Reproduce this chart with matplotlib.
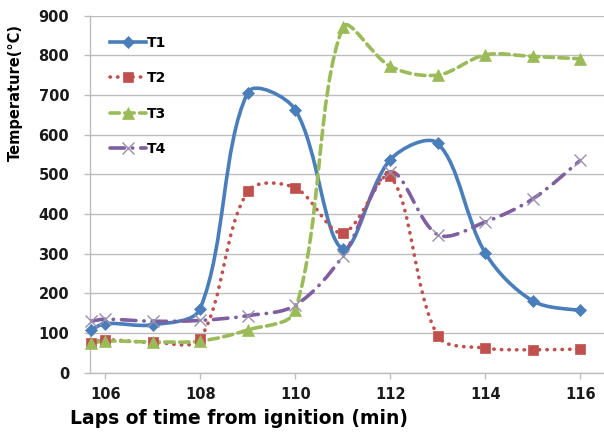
import matplotlib
matplotlib.use("Agg")
import matplotlib.pyplot as plt
import numpy as np
from matplotlib.path import Path
from matplotlib.patches import PathPatch
from matplotlib.lines import Line2D

plt.rcParams["font.family"] = ["DejaVu Sans"]

# minutes since ignition (first reading sits on the axis)
minutes = [105.7, 106, 107, 108, 109, 110, 111, 112, 113, 114, 115, 116]
t1 = [108, 124, 121, 162, 706, 663, 312, 537, 578, 302, 181, 157]
t2 = [75, 83, 77, 86, 457, 466, 352, 495, 93, 62, 58, 60]
t3 = [75, 80, 78, 80, 108, 157, 870, 772, 750, 801, 797, 791]
t4 = [130, 135, 130, 132, 144, 170, 294, 506, 348, 380, 438, 535]

x_ticks = [106, 108, 110, 112, 114, 116]
y_ticks = list(range(0, 1000, 100))

SERIES = [
    ("T1", t1, "#4A7EBB", "-", "D", 6.5),
    ("T2", t2, "#C0504D", (0, (0.1, 2.0)), "s", 7),
    ("T3", t3, "#9BBB59", (0, (2.6, 1.5)), "^", 8),
    ("T4", t4, "#7F5FA0", (0, (4, 2.2, 0.1, 2.2)), "x", 9),
]


def smooth_path(ax, xs, ys):
    """Excel-style smoothed line, bezier built in screen space then mapped back."""
    pts = ax.transData.transform(np.column_stack([xs, ys]))
    n = len(pts)
    dist = [np.hypot(*(pts[i + 1] - pts[i])) for i in range(n - 1)]
    verts = [pts[0]]
    for i in range(n - 1):
        p0 = pts[max(i - 1, 0)]
        p1 = pts[i]
        p2 = pts[i + 1]
        p3 = pts[min(i + 2, n - 1)]
        d01 = dist[i - 1] if i > 0 else dist[i]
        d12 = dist[i]
        d23 = dist[i + 1] if i + 2 < n else dist[i]
        c1 = p1 + (p2 - p0) * d12 / (3 * (d01 + d12))
        c2 = p2 - (p3 - p1) * d12 / (3 * (d12 + d23))
        verts += [c1, c2, p2]
    verts = ax.transData.inverted().transform(np.array(verts))
    codes = [Path.MOVETO] + [Path.CURVE4] * (len(verts) - 1)
    return Path(verts, codes)


fig = plt.figure(figsize=(6.04, 4.32), dpi=100)
ax = fig.add_axes([0.149, 0.137, 0.851, 0.827])
ax.set_xlim(105.68, 116.5)
ax.set_ylim(0, 900)

handles = []
for name, vals, color, ls, mk, ms in SERIES:
    patch = PathPatch(smooth_path(ax, minutes, vals), facecolor="none",
                      edgecolor=color, linewidth=2.6, linestyle=ls,
                      capstyle="round", zorder=3)
    ax.add_patch(patch)
    mcolor = "#9990B0" if mk == "x" else color
    mew = 1.0 if mk == "x" else 0.5
    ax.plot(minutes, vals, linestyle="none", marker=mk, markersize=ms,
            color=mcolor, markeredgecolor=mcolor, markeredgewidth=mew,
            clip_on=False, zorder=4)
    h = Line2D([0], [0], color=color, linewidth=2.6, linestyle=ls,
               marker=mk, markersize=ms, markerfacecolor=mcolor,
               markeredgecolor=mcolor, markeredgewidth=mew,
               dash_capstyle="round")
    handles.append(h)

ax.set_xticks(x_ticks)
ax.set_yticks(y_ticks)
ax.yaxis.grid(True, color="#BDBDBD", linewidth=1)
ax.set_axisbelow(True)

for side in ("top", "right"):
    ax.spines[side].set_visible(False)
for side in ("left", "bottom"):
    ax.spines[side].set_color("#BDBDBD")
    ax.spines[side].set_linewidth(1)
ax.tick_params(axis="both", colors="#BDBDBD", length=4, width=1,
               labelcolor="#1a1a1a", labelsize=10.5)
ax.tick_params(axis="x", pad=6)
ax.tick_params(axis="y", pad=11)
for lab in ax.get_xticklabels() + ax.get_yticklabels():
    lab.set_fontweight("bold")

# labels sit off-centre in the original
ax.set_ylabel("Temperature(°C)", fontsize=10.5, fontweight="bold")
ax.yaxis.set_label_coords(-0.146, 0.784)
ax.set_xlabel("Laps of time from ignition (min)", fontsize=13.5,
              fontweight="bold")
ax.xaxis.set_label_coords(0.29, -0.129)
ax.xaxis.label.set_va("center")
ax.yaxis.label.set_va("center")

leg = ax.legend(handles, [s[0] for s in SERIES], loc="upper left",
                bbox_to_anchor=(0.025, 0.963), frameon=False, borderpad=0,
                handlelength=2.6, labelspacing=1.55, handletextpad=0.1,
                prop={"weight": "bold", "size": 10})

fig.savefig("out.png", dpi=100)
